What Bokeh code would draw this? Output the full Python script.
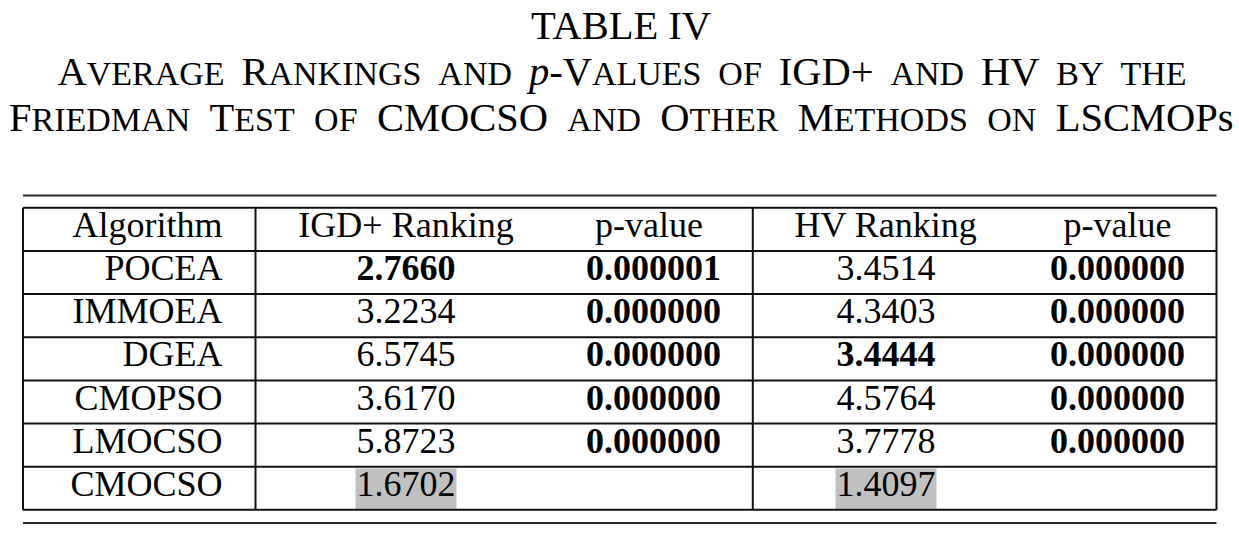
from bokeh.plotting import figure
from bokeh.models import Range1d
from bokeh.core.properties import value
from bokeh.embed import file_html
from bokeh.resources import INLINE

# ---------------- data ----------------
table_number = "TABLE IV"
algorithms = ["POCEA", "IMMOEA", "DGEA", "CMOPSO", "LMOCSO", "CMOCSO"]
igd_ranking = [2.7660, 3.2234, 6.5745, 3.6170, 5.8723, 1.6702]
igd_pvalue = [0.000001, 0.000000, 0.000000, 0.000000, 0.000000, None]
hv_ranking = [3.4514, 4.3403, 3.4444, 4.5764, 3.7778, 1.4097]
hv_pvalue = [0.000000, 0.000000, 0.000000, 0.000000, 0.000000, None]
igd_rank_bold = [True, False, False, False, False, False]
hv_rank_bold = [False, False, True, False, False, False]
highlight_algorithm = "CMOCSO"
headers = ["Algorithm", "IGD+ Ranking", "p-value", "HV Ranking", "p-value"]

# title, small caps: (text, kind)  B = full-size cap, s = small cap, i = italic, sp = space
title_line2 = [("A", "B"), ("VERAGE", "s"), (" ", "sp"), ("R", "B"), ("ANKINGS", "s"), (" ", "sp"),
               ("AND", "s"), (" ", "sp"), ("p", "i"), ("-V", "B"), ("ALUES", "s"), (" ", "sp"),
               ("OF", "s"), (" ", "sp"), ("IGD+", "B"), (" ", "sp"), ("AND", "s"), (" ", "sp"),
               ("HV", "B"), (" ", "sp"), ("BY", "s"), (" ", "sp"), ("THE", "s")]
title_line3 = [("F", "B"), ("RIEDMAN", "s"), (" ", "sp"), ("T", "B"), ("EST", "s"), (" ", "sp"),
               ("OF", "s"), (" ", "sp"), ("CMOCSO", "B"), (" ", "sp"), ("AND", "s"), (" ", "sp"),
               ("O", "B"), ("THER", "s"), (" ", "sp"), ("M", "B"), ("ETHODS", "s"), (" ", "sp"),
               ("ON", "s"), (" ", "sp"), ("LSCMOPs", "B")]

# ---------------- layout / style ----------------
W, H = 1236, 530
FONT = "Liberation Serif"
FB, FS = 40.5, 34.0
TABLE_PX = 36.0
BASE_FIX = 0.32  # em shift to land the alphabetic baseline where intended
X_L, X_R = 22.5, 1216.0
V_LINES = [22.5, 255.0, 752.3, 1216.0]
ROW_TOP, ROW_H = 207.3, 43.15
N_ROWS = len(algorithms) + 1
TOP_RULE, BOTTOM_RULE = 195.0, 522.5
ALG_RIGHT = 222.0
IGD_X, IGD_P_HDR_X, IGD_P_X = 405.5, 648.5, 653.0
HV_X, HV_P_X = 885.5, 1117.0
HL_HALF_W = 50.5

TW = {" ": 250, "+": 564, "-": 333, "A": 722, "B": 667, "C": 667, "D": 722, "E": 611, "F": 556,
      "G": 722, "H": 722, "I": 333, "K": 722, "L": 611, "M": 889, "N": 722, "O": 722, "P": 556,
      "R": 667, "S": 556, "T": 611, "U": 722, "V": 722, "Y": 722, "p": 500, "s": 389}


def seg_w(t, size):
    return sum(TW[c] for c in t) * size / 1000.0


def layout(segs, x0, x1):
    nat = sum(seg_w(t, FS if k == "s" else FB) for t, k in segs)
    nsp = sum(1 for _, k in segs if k == "sp")
    extra = (x1 - x0 - nat) / nsp
    x = x0
    out = []
    for t, k in segs:
        w = seg_w(t, FS if k == "s" else FB)
        if k == "sp":
            w += extra
        else:
            out.append((x, t, k))
        x += w
    return out


p = figure(width=W, height=H, x_range=Range1d(0, W), y_range=Range1d(H, 0),
           x_axis_type=None, y_axis_type=None, toolbar_location=None, output_backend="svg",
           min_border=0, outline_line_color=None, background_fill_color="white")
p.grid.visible = False


def draw_text(xs, ys, texts, size, align, style="normal"):
    if not texts:
        return
    p.text(x=xs, y=[y - BASE_FIX * size for y in ys], text=texts, text_font=value(FONT),
           text_font_size=f"{size}px", text_font_style=style, text_align=align,
           text_baseline="alphabetic", text_color="black")


# ---- title
draw_text([620.5], [37.5], [table_number], FB, "center")
for segs, x0, x1, yb in [(title_line2, 57.0, 1186.0, 83.5), (title_line3, 8.5, 1233.0, 130.0)]:
    placed = layout(segs, x0, x1)
    for kind, size, style in [("B", FB, "normal"), ("s", FS, "normal"), ("i", FB, "italic")]:
        items = [(lx, t) for lx, t, k in placed if k == kind]
        draw_text([a for a, _ in items], [yb] * len(items), [b for _, b in items], size, "left", style)

bounds = [ROW_TOP + i * ROW_H for i in range(N_ROWS + 1)]
baselines = [bounds[i + 1] - 14.5 for i in range(N_ROWS)]

# ---- highlight cells
hl = [i for i, a in enumerate(algorithms) if a == highlight_algorithm]
for cx in (IGD_X, HV_X):
    p.quad(left=[cx - HL_HALF_W] * len(hl), right=[cx + HL_HALF_W] * len(hl),
           top=[bounds[i + 1] + 1.8 for i in hl], bottom=[bounds[i + 2] - 1.0 for i in hl],
           fill_color="#c0c0c0", line_color=None)

# ---- lines
p.segment(x0=[X_L, X_L], x1=[X_R, X_R], y0=[TOP_RULE, BOTTOM_RULE], y1=[TOP_RULE, BOTTOM_RULE],
          line_color="#2a2a2a", line_width=2)
p.segment(x0=[X_L] * len(bounds), x1=[X_R] * len(bounds), y0=bounds, y1=bounds,
          line_color="#111111", line_width=2)
p.segment(x0=V_LINES, x1=V_LINES, y0=[bounds[0]] * len(V_LINES), y1=[bounds[-1]] * len(V_LINES),
          line_color="#111111", line_width=2)


def put(xs, ys, texts, align, bold=False):
    draw_text(xs, ys, texts, TABLE_PX, align, "bold" if bold else "normal")


# ---- header
put([ALG_RIGHT], [baselines[0]], [headers[0]], "right")
put([IGD_X, IGD_P_HDR_X, HV_X, HV_P_X], [baselines[0]] * 4, headers[1:], "center")

# ---- body
rb = baselines[1:]
put([ALG_RIGHT] * len(algorithms), rb, algorithms, "right")


def column(vals, bolds, cx, fmt):
    for flag in (False, True):
        idx = [i for i, v in enumerate(vals) if v is not None and bolds[i] == flag]
        put([cx] * len(idx), [rb[i] for i in idx], [fmt.format(vals[i]) for i in idx], "center", flag)


column(igd_ranking, igd_rank_bold, IGD_X, "{:.4f}")
column(igd_pvalue, [True] * len(igd_pvalue), IGD_P_X, "{:.6f}")
column(hv_ranking, hv_rank_bold, HV_X, "{:.4f}")
column(hv_pvalue, [True] * len(hv_pvalue), HV_P_X, "{:.6f}")

open("out.html", "w").write(file_html(p, INLINE))
